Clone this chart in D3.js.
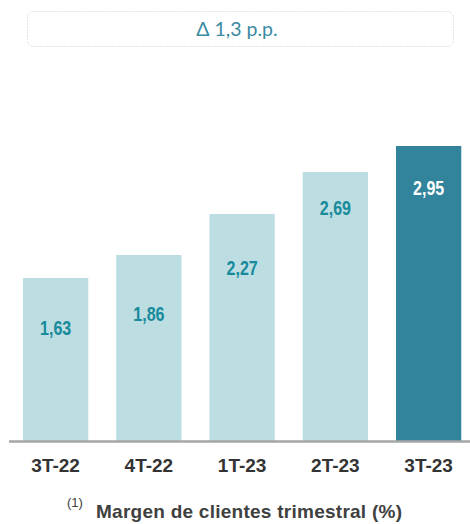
<!DOCTYPE html>
<html>
<head>
<meta charset="utf-8">
<script src="https://cdn.jsdelivr.net/npm/d3@7"></script>
<style>
  html, body { margin: 0; padding: 0; background: #ffffff; }
  svg { display: block; }
</style>
</head>
<body>
<svg id="chart" width="470" height="524"></svg>
<script>
// ---- data ----
const categories = ["3T-22", "4T-22", "1T-23", "2T-23", "3T-23"];
const values = [1.63, 1.86, 2.27, 2.69, 2.95];
const valueLabels = ["1,63", "1,86", "2,27", "2,69", "2,95"];
const highlight = [false, false, false, false, true];
const deltaText = "\u0394 1,3 p.p.";
const footnoteMark = "(1)";
const footnoteText = "Margen de clientes trimestral (%)";

// ---- layout (not data) ----
const labelOffsets = [57, 66, 61, 43, 49]; // px below bar top to label baseline

const svg = d3.select("#chart");

const x = d3.scaleBand()
  .domain(categories)
  .range([9, 475.25])
  .paddingInner(0.3)
  .paddingOuter(0.15);

const y = d3.scaleLinear()
  .domain([0, 3])
  .range([441, 141]);

// title box
svg.append("rect")
  .attr("x", 27.5).attr("y", 11.5)
  .attr("width", 426).attr("height", 35)
  .attr("rx", 6).attr("ry", 6)
  .attr("fill", "#ffffff")
  .attr("stroke", "#e4e4e4")
  .attr("stroke-width", 1)
  .attr("stroke-dasharray", "2,1");

svg.append("text")
  .attr("x", 237).attr("y", 36)
  .attr("text-anchor", "middle")
  .attr("font-family", "Lato, 'Open Sans', sans-serif")
  .attr("font-size", 19.5)
  .attr("fill", "#3a8aa2")
  .text(deltaText);

const rows = categories.map((c, i) => ({c, v: values[i], lab: valueLabels[i], hi: highlight[i], off: labelOffsets[i]}));

// bars
svg.append("g").selectAll("rect")
  .data(rows)
  .join("rect")
  .attr("x", d => x(d.c))
  .attr("y", d => y(d.v))
  .attr("width", x.bandwidth())
  .attr("height", d => y(0) - y(d.v))
  .attr("fill", d => d.hi ? "#31849b" : "#bcdde1");

// value labels (condensed bold)
svg.append("g").selectAll("text")
  .data(rows)
  .join("text")
  .attr("transform", d => `translate(${x(d.c) + x.bandwidth() / 2},${y(d.v) + d.off}) scale(0.8,1)`)
  .attr("text-anchor", "middle")
  .attr("font-family", "'Liberation Sans', Arial, sans-serif")
  .attr("font-weight", "bold")
  .attr("font-size", 20)
  .attr("fill", d => d.hi ? "#ffffff" : "#178a9b")
  .text(d => d.lab);

// axis
const xAxis = d3.axisBottom(x).tickSize(0).tickPadding(0);
const gx = svg.append("g")
  .attr("transform", `translate(0,${y(0)})`)
  .call(xAxis);
gx.select(".domain")
  .attr("d", "M9,0.5H470")
  .attr("stroke", "#a6a6a6")
  .attr("stroke-width", 2.5);
gx.selectAll(".tick text")
  .attr("y", 31)
  .attr("dy", null)
  .attr("font-family", "'Liberation Sans', Arial, sans-serif")
  .attr("font-weight", "bold")
  .attr("font-size", 19)
  .attr("fill", "#333333");

// footnote
svg.append("text")
  .attr("x", 67).attr("y", 507)
  .attr("font-family", "'Liberation Sans', Arial, sans-serif")
  .attr("font-size", 13)
  .attr("fill", "#404040")
  .text(footnoteMark);

svg.append("text")
  .attr("x", 96).attr("y", 518)
  .attr("textLength", 306)
  .attr("font-family", "'Liberation Sans', Arial, sans-serif")
  .attr("font-weight", "bold")
  .attr("font-size", 19)
  .attr("fill", "#404040")
  .text(footnoteText);
</script>
</body>
</html>
